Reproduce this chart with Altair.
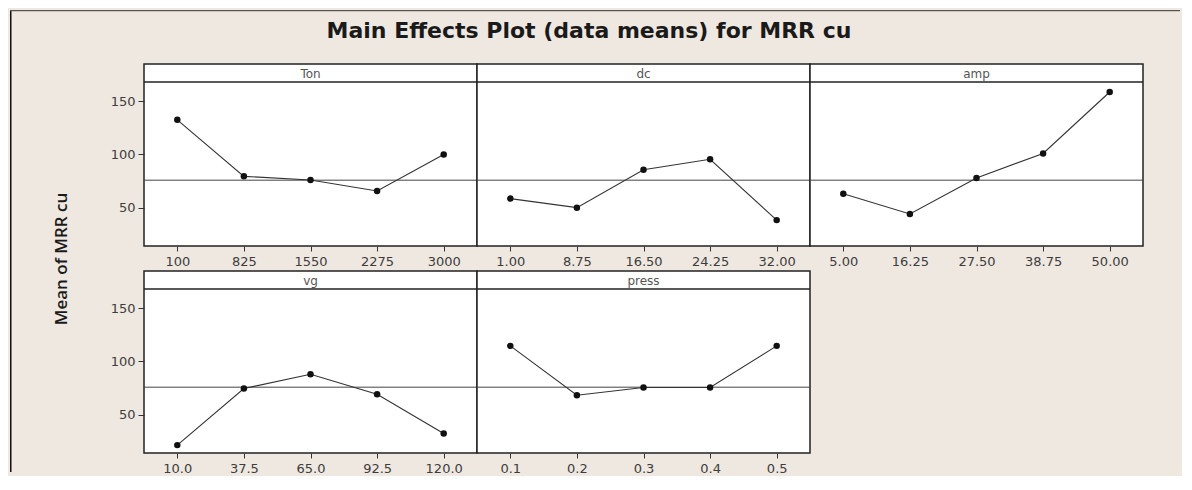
import altair as alt
import pandas as pd

# ---- data ----
title_text = "Main Effects Plot (data means) for MRR cu"
y_title = "Mean of MRR cu"
factors = ["Ton", "dc", "amp", "vg", "press"]

ton_levels = ["100", "825", "1550", "2275", "3000"]
ton_means = [132.5, 79.4, 76.0, 65.6, 100.0]
dc_levels = ["1.00", "8.75", "16.50", "24.25", "32.00"]
dc_means = [58.5, 50.0, 85.6, 95.4, 38.3]
amp_levels = ["5.00", "16.25", "27.50", "38.75", "50.00"]
amp_means = [63.1, 44.1, 77.9, 100.9, 158.6]
vg_levels = ["10.0", "37.5", "65.0", "92.5", "120.0"]
vg_means = [21.4, 74.6, 87.9, 69.2, 32.3]
press_levels = ["0.1", "0.2", "0.3", "0.4", "0.5"]
press_means = [114.6, 68.3, 75.5, 75.5, 114.6]

grand_mean = 75.8
y_ticks = [50, 100, 150]
y_domain = [14, 168]

levels_by_factor = {
    "Ton": (ton_levels, ton_means),
    "dc": (dc_levels, dc_means),
    "amp": (amp_levels, amp_means),
    "vg": (vg_levels, vg_means),
    "press": (press_levels, press_means),
}

rows = []
for f in factors:
    lv, mv = levels_by_factor[f]
    for l, m in zip(lv, mv):
        rows.append({"factor": f, "level": l, "mean": m})
df = pd.DataFrame(rows)
hdr_df = pd.DataFrame({"factor": factors})
deco_df = pd.DataFrame({"title": [title_text], "ytitle": [y_title]})

# ---- layout constants ----
W, H, HDR = 333, 182, 18
BG = "#efe8e1"
FRAME = "#222222"
FONT = "DejaVu Sans"


def panel(name, show_y, decorations=False):
    levels = levels_by_factor[name][0]
    yscale = alt.Scale(domain=y_domain, range=[H, HDR], nice=False, zero=False)
    yaxis = (
        alt.Axis(values=y_ticks, title=None, grid=False, domain=False,
                 tickSize=6, labelPadding=3, labelFont=FONT, labelFontSize=13,
                 labelColor="#3d3d3d", tickColor="#333")
        if show_y else None
    )
    x = alt.X("level:N", sort=levels,
              scale=alt.Scale(type="point", padding=0.5),
              axis=alt.Axis(title=None, labelAngle=0, grid=False, domain=False,
                            tickSize=5, labelPadding=4, labelFont=FONT,
                            labelFontSize=13, labelColor="#3d3d3d",
                            tickColor="#333"))
    y = alt.Y("mean:Q", scale=yscale, axis=yaxis)

    base = alt.Chart(df).transform_filter(alt.datum.factor == name)
    one = alt.Chart(hdr_df).transform_filter(alt.datum.factor == name)
    mean_rule = one.mark_rule(color="#444", strokeWidth=1).encode(
        y=alt.Y(datum=grand_mean, scale=yscale, axis=yaxis))
    line = base.mark_line(color="#333", strokeWidth=1.1).encode(x=x, y=y)
    pts = base.mark_point(filled=True, color="#111", size=42, opacity=1).encode(x=x, y=y)

    hdr_line = one.mark_rule(color=FRAME, strokeWidth=1.5).encode(
        x=alt.value(0), x2=alt.value(W), y=alt.value(HDR))
    hdr_text = one.mark_text(
        font=FONT, fontSize=12, color="#555", baseline="middle", align="center"
    ).encode(text="factor:N", x=alt.value(W / 2), y=alt.value(HDR / 2 + 1))

    layers = [mean_rule, line, pts, hdr_line, hdr_text]

    if decorations:
        deco = alt.Chart(deco_df)
        left_border = deco.mark_rule(color="#111", strokeWidth=1.5).encode(
            x=alt.value(-133.25), y=alt.value(-54), y2=alt.value(408))
        top_border = deco.mark_rule(color="#555", strokeWidth=1.2).encode(
            x=alt.value(-134), x2=alt.value(1036), y=alt.value(-53.4))
        title = deco.mark_text(font=FONT, fontSize=22, fontWeight="bold",
                               color="#1a1a1a", align="center",
                               baseline="alphabetic").encode(
            text="title:N", x=alt.value(445), y=alt.value(-26))
        ytitle = deco.mark_text(font="Open Sans", fontSize=17, fontWeight=600,
                                color="#1a1a1a", align="center", baseline="middle",
                                angle=270).encode(
            text="ytitle:N", x=alt.value(-82), y=alt.value(195))
        layers = [left_border, top_border, title, ytitle] + layers

    return alt.layer(*layers).properties(width=W, height=H)


chart = alt.concat(
    panel("Ton", True, decorations=True),
    panel("dc", False),
    panel("amp", False),
    panel("vg", True),
    panel("press", False),
    columns=3,
    spacing={"row": 25, "column": 0},
    bounds="flush",
).properties(
    background=BG, padding=0
).configure_view(fill="white", stroke=FRAME, strokeWidth=1.5)

chart.save("out.html", embed_options={"renderer": "svg", "actions": False})
